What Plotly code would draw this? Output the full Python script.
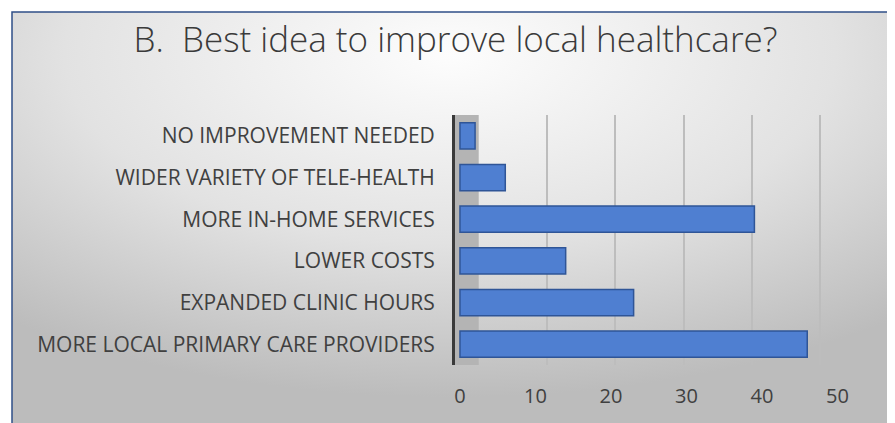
import plotly.graph_objects as go

categories = ["NO IMPROVEMENT NEEDED", "WIDER VARIETY OF TELE-HEALTH",
              "MORE IN-HOME SERVICES", "LOWER COSTS",
              "EXPANDED CLINIC HOURS", "MORE LOCAL PRIMARY CARE PROVIDERS"]
values = [2, 6, 39, 14, 23, 46]
tick_vals = [0, 10, 20, 30, 40, 50]
title = "B.  Best idea to improve local healthcare?"

# the page body adds an 8px margin, so everything is laid out 8px up/left
O = 8
W, H = 895 - O, 423 - O
# plot area in page pixels
L, R, T, B = 455, 845, 115, 365
pw, ph = R - L, B - T

def px(x):
    return (x - L) / pw

def py(y):
    return (B - y) / ph

font = "Open Sans, Lato, sans-serif"

bg_svg = (
    "data:image/svg+xml;utf8,"
    "<svg xmlns='http://www.w3.org/2000/svg' width='876' height='420' preserveAspectRatio='none'>"
    "<defs><radialGradient id='g' cx='0.5' cy='0.1' r='0.8' fx='0.5' fy='0.1'>"
    "<stop offset='0' stop-color='%23fdfdfd'/><stop offset='0.55' stop-color='%23e2e2e2'/>"
    "<stop offset='1' stop-color='%23bcbcbc'/></radialGradient></defs>"
    "<rect width='876' height='420' fill='url(%23g)'/></svg>"
)

fig = go.Figure()
fig.add_trace(go.Bar(
    y=categories, x=values, orientation="h", width=0.63,
    marker=dict(color="#4f7fd1", line=dict(color="#2f5597", width=1.5)),
    hoverinfo="x+y",
))
# invisible trace to carry the back-wall grid axis
fig.add_trace(go.Scatter(x=[None], y=[None], xaxis="x2", showlegend=False))

fig.update_layout(
    width=W, height=H,
    margin=dict(l=L - O, r=W - (R - O), t=T - O, b=H - (B - O)),
    paper_bgcolor="white", plot_bgcolor="rgba(0,0,0,0)",
    showlegend=False,
    title=dict(text=title, x=(455.5 - O) / W, xref="container", xanchor="center",
               y=1 - (40 - O) / H, yanchor="middle",
               font=dict(family=font, size=35, weight=300, color="#3a3a3a")),
    xaxis=dict(range=[-0.66, 51.0], tickvals=tick_vals, showgrid=False, zeroline=False,
               showline=False, ticks="", ticklabelstandoff=17,
               tickfont=dict(family=font, size=20, color="#404040")),
    xaxis2=dict(range=[-3.47, 53.63], overlaying="x", side="bottom", tickvals=tick_vals[1:],
                showticklabels=False, showgrid=True, gridcolor="#bdbdbd", gridwidth=2,
                zeroline=False, showline=False),
    yaxis=dict(autorange="reversed", showgrid=False, zeroline=False, ticks="",
               showline=True, linecolor="#3a3a3a", linewidth=3, ticklabelstandoff=13,
               tickfont=dict(family=font, size=21, color="#404040")),
    images=[dict(source=bg_svg, xref="paper", yref="paper", x=px(12), y=py(12),
                 sizex=(888 - 12) / pw, sizey=(440 - 12) / ph, sizing="stretch",
                 xanchor="left", yanchor="top", layer="below")],
    shapes=[
        dict(type="rect", xref="x2", yref="paper", x0=-3.47, x1=0, y0=0, y1=1,
             fillcolor="#b4b4b4", line=dict(width=0), layer="below"),
        dict(type="rect", xref="paper", yref="paper", x0=px(12), x1=px(888),
             y0=py(440), y1=py(12), line=dict(color="#2f4f88", width=1.5)),
    ],
)

fig.write_html("out.html")
